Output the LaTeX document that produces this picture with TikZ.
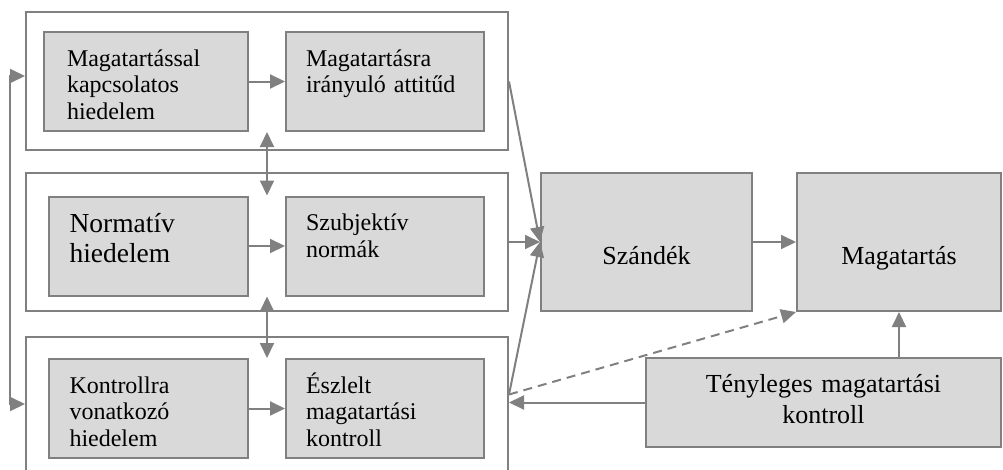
\documentclass[tikz,border=0pt]{standalone}
\usepackage{fontspec}
\setmainfont{Liberation Serif}
\usepackage{tikz}
\usetikzlibrary{arrows.meta,calc}

\definecolor{linegray}{RGB}{128,128,128}
\definecolor{boxgray}{RGB}{217,217,217}
\newcommand{\txtsm}{\fontsize{24}{26.5}\selectfont}
\newcommand{\txtlg}{\fontsize{26}{30.5}\selectfont}
\newcommand{\txtxl}{\fontsize{27.5}{30}\selectfont}

\begin{document}
\begin{tikzpicture}[x=1pt,y=-1pt,->,>={Triangle[length=15pt,width=14pt]},line width=2pt,
    link/.style={draw=linegray},
    group box/.style={rectangle,draw=linegray,minimum width=482pt,minimum height=138pt,inner sep=0pt},
    inner box/.style={rectangle,draw=linegray,fill=boxgray,minimum width=198pt,text width=158pt,inner xsep=20pt,inner ysep=0pt,align=left,text height=34pt,text depth=65pt,font=\txtsm},
    main box/.style={rectangle,draw=linegray,fill=boxgray,minimum height=138pt,align=center,font=\txtlg,text height=44pt,text depth=0pt}]
    \useasboundingbox (0,0) rectangle (1003,469);

    % frames
    \node[group box] (G1) at (267,81) {};
    \node[group box] (G2) at (267,242) {};
    \node[group box,minimum height=150pt] (G3) at (267,412) {};

    % beliefs and their results
    \node[inner box,minimum width=204pt] (A1) at (146,81.5) {Magatartással\\kapcsolatos\\hiedelem};
    \node[inner box] (A2) at (385,81.5) {Magatartásra\\irányuló attitűd};
    \node[inner box,minimum width=199pt,font=\txtxl,text height=36pt,text depth=63pt] (B1) at (148.5,246) {Normatív\\hiedelem};
    \node[inner box] (B2) at (385,246) {Szubjektív\\normák};
    \node[inner box,minimum width=199pt] (C1) at (148.5,408.5) {Kontrollra\\vonatkozó\\hiedelem};
    \node[inner box] (C2) at (385,408.5) {Észlelt\\magatartási\\kontroll};

    \node[main box,minimum width=211pt] (Sz) at (646.5,242) {Szándék};
    \node[main box,minimum width=204pt] (Mag) at (899,242) {Magatartás};
    \node[main box,minimum width=355pt,minimum height=89pt,text width=320pt,text height=20pt,text depth=40pt] (Ten) at (823.5,402.5) {Tényleges magatartási\\kontroll};

    \coordinate (fbtop) at (10,76);
    \coordinate (fbbot) at (10,404);
    \coordinate (inC) at (Ten.west -| G3.east);
    \coordinate (outC) at ([yshift=8pt]inC);

    \draw[link] (A1) -- (A2);
    \draw[link] (B1) -- (B2);
    \draw[link] (C1) -- (C2);
    \draw[link,<->] (fbtop -| G1.west) -- (fbtop) -- (fbbot) -- (fbbot -| G3.west);
    \draw[link,<->] ($(A1.south east)!.5!(A2.south west)$) -- ($(B1.north east)!.5!(B2.north west)$);
    \draw[link,<->] ($(B1.south east)!.5!(B2.south west)$) -- ($(C1.north east)!.5!(C2.north west)$);

    \draw[link] (A2 -| G1.east) -- (Sz.west);
    \draw[link] (G2.east) -- (Sz.west);
    \draw[link] (outC) -- (Sz.west);
    \draw[link,dash pattern=on 9pt off 6pt] (outC) -- (Mag.south west);
    \draw[link] (Sz) -- (Mag);
    \draw[link] (Mag.south |- Ten.north) -- (Mag.south);
    \draw[link] (Ten.west) -- (inC);
\end{tikzpicture}
\end{document}
